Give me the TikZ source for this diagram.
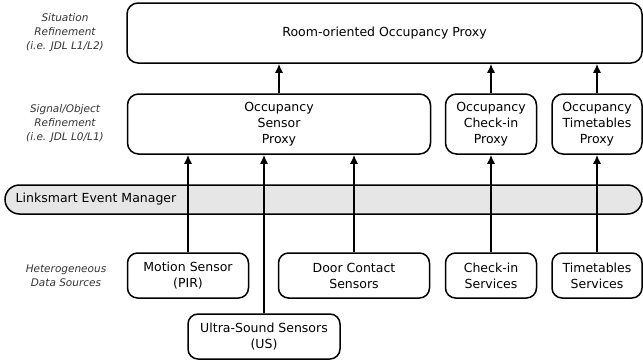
\documentclass[tikz,border=0pt]{standalone}
\usepackage{fontspec}
\setmainfont{DejaVu Sans}
\usepackage{tikz}
\usetikzlibrary{arrows.meta}
\usepackage{xcolor}
\definecolor{busgray}{HTML}{E6E6E6}

\begin{document}
\begin{tikzpicture}[x=1pt,y=-1pt,line width=1.5pt,
    box/.style={draw,rounded corners=11pt,align=center,inner sep=0pt,
        font=\fontsize{12.5}{16}\selectfont},
    src/.style={box,rounded corners=10pt,minimum height=45pt},
    layer/.style={align=center,text=black!80,font=\fontsize{10.5}{14}\selectfont\itshape},
    up/.style={-{Latex[length=9pt,width=8pt]}}]
            \useasboundingbox (0,0) rectangle (643,362);
            % layer labels
            \node[layer] (lsit) at (65,33) {Situation\\Refinement\\(i.e. JDL L1/L2)};
            \node[layer] (lsig) at (65,124) {Signal/Object\\Refinement\\(i.e. JDL L0/L1)};
            \node[layer] (lsrc) at (66,276) {Heterogeneous\\Data Sources};
            % proxies
            \node[box,minimum width=515pt,minimum height=60pt] (room) at (384.5,33) {Room-oriented Occupancy Proxy};
            \node[box,minimum width=303pt,minimum height=60pt] (osp) at (279,124) {Occupancy\\Sensor\\Proxy};
            \node[box,minimum width=91pt,minimum height=60pt] (ocp) at (491,124) {Occupancy\\Check-in\\Proxy};
            \node[box,minimum width=90pt,minimum height=60pt] (otp) at (597,124) {Occupancy\\Timetables\\Proxy};
            % event manager
            \node[box,fill=busgray,rounded corners=14.5pt,minimum width=637pt,minimum height=29pt] (lem) at (323.5,199.5) {};
            \node[anchor=west,inner sep=0pt,font=\fontsize{12.5}{16}\selectfont] (lemtxt) at (15,199.5) {Linksmart Event Manager};
            % sources
            \node[src,minimum width=121pt] (pir) at (188,275.5) {Motion Sensor\\(PIR)};
            \node[src,minimum width=151pt] (door) at (354,275.5) {Door Contact\\Sensors};
            \node[src,minimum width=91pt] (chk) at (491,275.5) {Check-in\\Services};
            \node[src,minimum width=90pt] (tts) at (597,275.5) {Timetables\\Services};
            \node[src,minimum width=152pt] (us) at (264,336.5) {Ultra-Sound Sensors\\(US)};
            % arrows
            \draw[up] (pir.north) -- (pir.north |- osp.south);
            \draw[up] (us.north) -- (us.north |- osp.south);
            \draw[up] (door.north) -- (door.north |- osp.south);
            \draw[up] (chk.north) -- (ocp.south);
            \draw[up] (tts.north) -- (otp.south);
            \draw[up] (osp.north) -- (osp.north |- room.south);
            \draw[up] (ocp.north) -- (ocp.north |- room.south);
            \draw[up] (otp.north) -- (otp.north |- room.south);
        \end{tikzpicture}
\end{document}
